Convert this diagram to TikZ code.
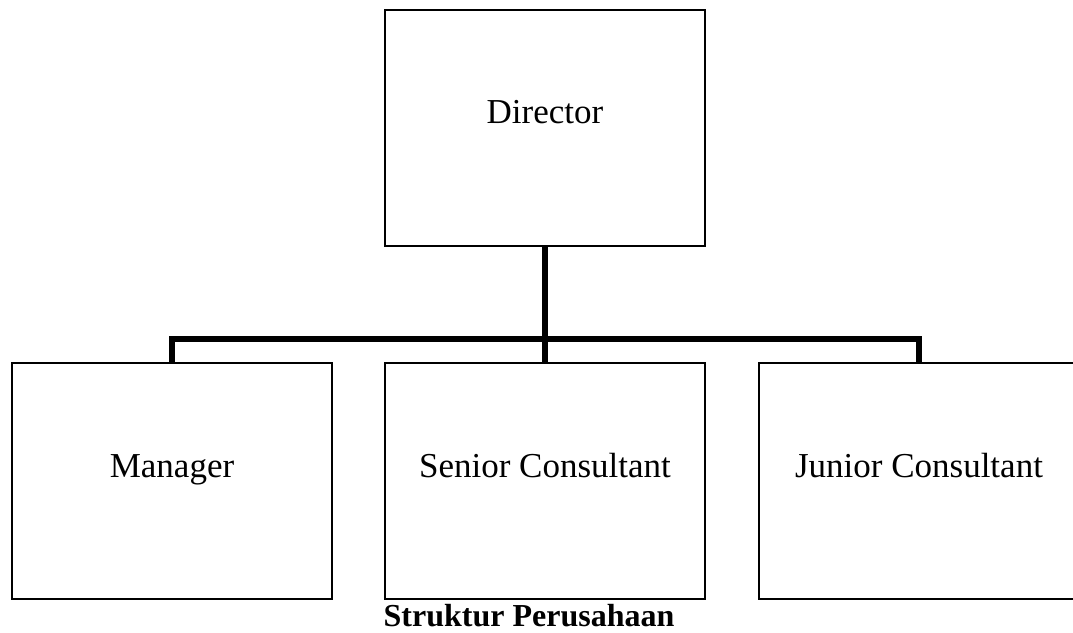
\documentclass[tikz,border=0pt]{standalone}
\usepackage{fontspec}
\setmainfont{Liberation Serif}
\begin{document}
\begin{tikzpicture}[x=1pt,y=-1pt,
  box/.style={draw=black,line width=2pt,minimum width=320pt,minimum height=236pt,inner sep=0pt},
  lbl/.style={anchor=base,inner sep=0pt,font=\fontsize{35}{40}\selectfont},
  conn/.style={line width=6pt}]
\useasboundingbox (0,0) rectangle (1073,632);
\begin{scope}
\clip (0,0) rectangle (1073,632);
\node[box] (dir) at (545,127.5) {};
\node[box] (man) at (172,481) {};
\node[box] (sen) at (545,481) {};
\node[box] (jun) at (919,481) {};
\end{scope}
\node[lbl] (dirt) at (545,123) {Director};
\node[lbl] (mant) at (172,477) {Manager};
\node[lbl] (sent) at (545,477) {Senior Consultant};
\node[lbl] (junt) at (919,477) {Junior Consultant};
\coordinate (bus) at (545,339);
\draw[conn] (dir.south) -- (bus);
\draw[conn] (man.north) -- (man.north |- bus) -- (jun.north |- bus) -- (jun.north);
\draw[conn] (bus) -- (sen.north);
\node[font=\bfseries\fontsize{32}{36}\selectfont,anchor=base,inner sep=0pt,text depth=0pt] (cap) at (529,626) {Struktur Perusahaan};
\end{tikzpicture}
\end{document}
